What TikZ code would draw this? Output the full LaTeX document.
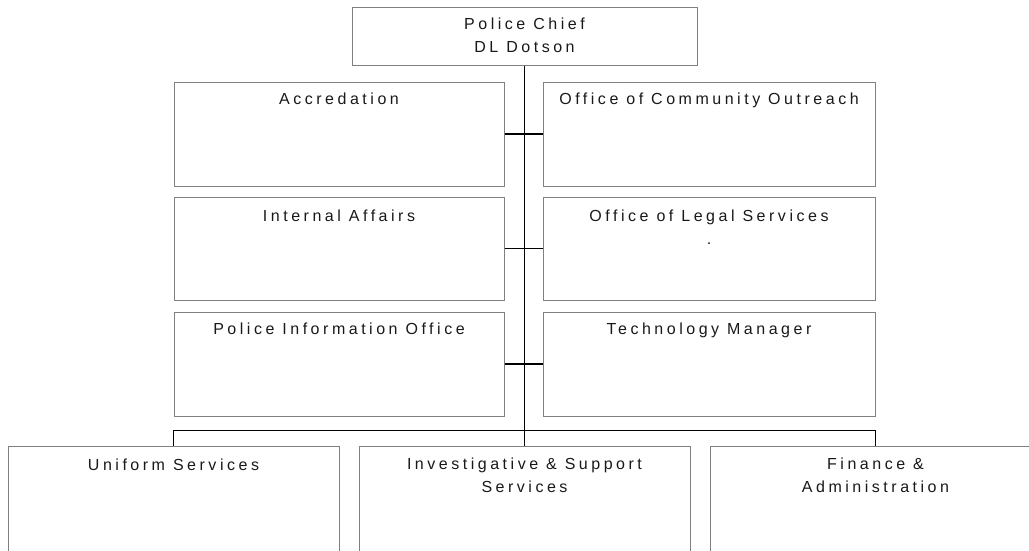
\documentclass[tikz,border=0pt]{standalone}
\usepackage{fontspec}
\setmainfont{Liberation Sans}[LetterSpace=22]
\begin{document}
\begin{tikzpicture}[x=1pt,y=-1pt,
  box/.style={draw=black!50,line width=1pt,rectangle,inner sep=0pt,fill=white},
  lbl/.style={anchor=base,align=center,inner sep=0pt,font=\fontsize{16}{23}\selectfont,text=black!90},
  conn/.style={draw=black,line width=1.4pt}]
\useasboundingbox[fill=white] (0,0) rectangle (1029,550);
\begin{scope}
\clip (0,0) rectangle (1029,550);
% boxes
\node[box,minimum width=345pt,minimum height=58pt] (chief) at (524.5,36) {};
\node[box,minimum width=330pt,minimum height=104pt] (acc) at (339,134) {};
\node[box,minimum width=330pt,minimum height=103pt] (ia) at (339,248.5) {};
\node[box,minimum width=330pt,minimum height=104pt] (pio) at (339,364) {};
\node[box,minimum width=332pt,minimum height=104pt] (oco) at (709,134) {};
\node[box,minimum width=332pt,minimum height=103pt] (ols) at (709,248.5) {};
\node[box,minimum width=332pt,minimum height=104pt] (tm) at (709,364) {};
\node[box,minimum width=331pt,minimum height=114pt] (us) at (173.5,503) {};
\node[box,minimum width=331pt,minimum height=114pt] (iss) at (524.5,503) {};
\node[box,minimum width=331pt,minimum height=114pt] (fa) at (875.5,503) {};
% connectors
\draw[conn] (chief.south) -- (iss.north);
\draw[conn] (acc.east) -- (oco.west);
\draw[conn] (ia.east) -- (ols.west);
\draw[conn] (pio.east) -- (tm.west);
\draw[conn] (us.north) |- ([yshift=15pt]iss.north) -| (fa.north);
% labels (base = baseline of the last line)
\node[lbl] (tchief) at ([yshift=-46pt]chief.north) {Police Chief\\DL Dotson};
\node[lbl] (tacc) at ([yshift=-23pt]acc.north) {Accredation};
\node[lbl] (tia) at ([yshift=-25pt]ia.north) {Internal Affairs};
\node[lbl] (tpio) at ([yshift=-23pt]pio.north) {Police Information Office};
\node[lbl] (toco) at ([yshift=-23pt]oco.north) {Office of Community Outreach};
\node[lbl] (tols) at ([yshift=-48pt]ols.north) {Office of Legal Services\\.};
\node[lbl] (ttm) at ([yshift=-23pt]tm.north) {Technology Manager};
\node[lbl] (tus) at ([yshift=-25pt]us.north) {Uniform Services};
\node[lbl] (tiss) at ([yshift=-47pt]iss.north) {Investigative \& Support\\Services};
\node[lbl] (tfa) at ([yshift=-47pt]fa.north) {Finance \&\\Administration};
\end{scope}
\end{tikzpicture}
\end{document}
